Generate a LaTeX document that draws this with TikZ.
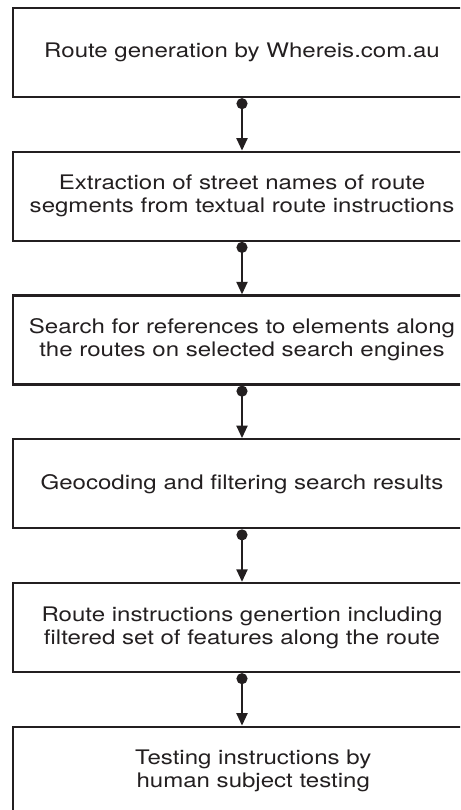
\documentclass[tikz,border=0pt]{standalone}
\usepackage{fontspec}
\setmainfont{TeX Gyre Heros}[FakeStretch=1.2]
\usetikzlibrary{arrows.meta}
\definecolor{ink}{HTML}{231F20}

\begin{document}
\begin{tikzpicture}[y=-1cm,
  stage/.style={draw=ink, line width=1.3pt, minimum width=9.16cm, minimum height=1.78cm,
    align=center, text=ink, font=\fontsize{11.4}{13}\selectfont},
  flow/.style={draw=ink, line width=1.2pt, {Circle[length=2.2mm]}-{Triangle[length=2.5mm,width=2.2mm]}}]
  \useasboundingbox (0,0) rectangle (9.2,16.2);
  \clip (0,0) rectangle (9.2,16.2);
  \node[stage] (gen) at (4.84,1.05) {Route generation by Whereis.com.au};
  \node[stage] (extract) at (4.84,3.925) {Extraction of street names of route\\segments from textual route instructions};
  \node[stage] (search) at (4.84,6.80) {Search for references to elements along\\the routes on selected search engines};
  \node[stage] (geocode) at (4.84,9.675) {Geocoding and filtering search results};
  \node[stage] (instr) at (4.84,12.55) {Route instructions genertion including\\filtered set of features along the route};
  \node[stage] (test) at (4.84,15.425) {\hspace*{0.45cm}Testing instructions by\\\hspace*{0.45cm}human subject testing};
  % connectors
  \draw[flow] (gen) -- (extract);
  \draw[flow] (extract) -- (search);
  \draw[flow] (search) -- (geocode);
  \draw[flow] (geocode) -- (instr);
  \draw[flow] (instr) -- (test);
\end{tikzpicture}
\end{document}
